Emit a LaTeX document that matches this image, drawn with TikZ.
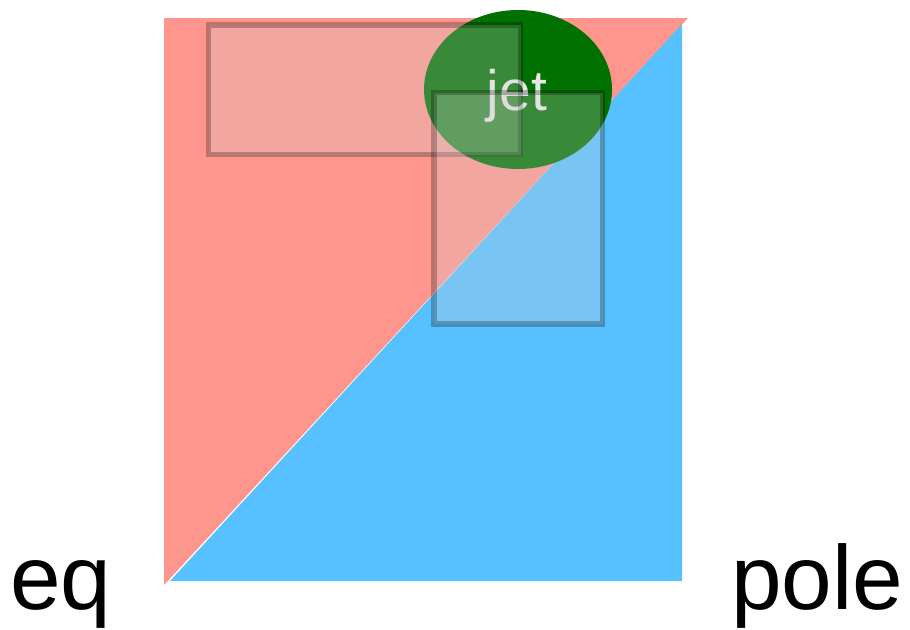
\documentclass[tikz,border=0pt]{standalone}
\usepackage{fontspec}
\usetikzlibrary{shapes.geometric}
\setmainfont{Liberation Sans}
\definecolor{redtri}{RGB}{255,150,141}
\definecolor{bluetri}{RGB}{87,192,255}
\definecolor{jetgreen}{RGB}{0,112,0}
\definecolor{boxfill}{RGB}{210,210,210}
\definecolor{jettext}{RGB}{232,232,232}
\begin{document}
\begin{tikzpicture}[x=1pt,y=-1pt,
  winbox/.style={fill=boxfill,fill opacity=0.27,draw=black,draw opacity=0.25,line width=5.5pt},
  biglabel/.style={font=\fontsize{91}{91}\selectfont,text=black,inner sep=0pt,anchor=base west}]
\useasboundingbox (0,0) rectangle (910,629);
% triangles
\fill[redtri] (164,18) -- (688,18) -- (164,585) -- cycle;
\fill[bluetri] (170,581) -- (682,581) -- (682,24) -- cycle;
% jet ellipse
\node[ellipse, fill=jetgreen, minimum width=188pt, minimum height=159pt, inner sep=0pt] (jet) at (518,89.5) {};
\node[font=\fontsize{57}{57}\selectfont, text=jettext, inner sep=0pt, anchor=base] (jetlabel) at (517,110) {jet};
% windows
\path[winbox] (208.5,25) rectangle (520.5,154.5);
\path[winbox] (434,92.5) rectangle (602.5,324);
% labels
\node[biglabel] (eq) at (10,609) {eq};
\node[biglabel] (pole) at (731,609) {pole};
\end{tikzpicture}
\end{document}
